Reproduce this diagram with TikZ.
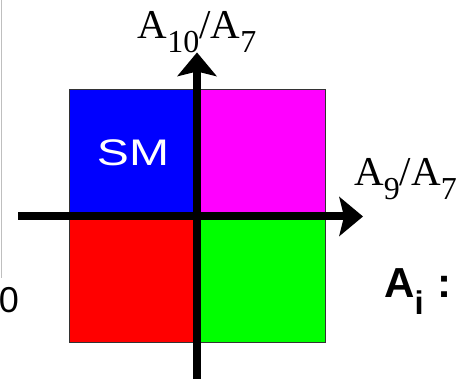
\documentclass[tikz,border=0pt]{standalone}
\usepackage{fontspec}
\setmainfont{Liberation Serif}
\setsansfont{Liberation Sans}
\usepackage{tikz}
\usetikzlibrary{arrows.meta,positioning}

\definecolor{qblue}{RGB}{0,0,255}
\definecolor{qmag}{RGB}{255,0,255}
\definecolor{qred}{RGB}{255,0,0}
\definecolor{qgreen}{RGB}{0,255,0}

% lowered index: [drop]{text}
\newcommand{\lowidx}[2][0.33em]{\raisebox{-#1}{\scalebox{0.78}{#2}}}

\begin{document}
\begin{tikzpicture}[x=1pt, y=1pt,
    quad/.style={draw=black!80, line width=1pt, minimum width=128pt,
                 minimum height=126.5pt, inner sep=0pt, outer sep=0pt},
    axis/.style={line width=8pt,
                 -{Stealth[length=24pt, width=40pt, inset=5pt, line width=0pt]}},
    serlab/.style={font=\fontsize{41}{41}\selectfont, inner sep=0pt}]
    \useasboundingbox (0,0) rectangle (460,379);

    % Left border line and digit at the edge
    \coordinate (rtop) at (1,379);
    \coordinate (rbot) at (1,101);
    \draw[gray!50, line width=1pt] (rtop) -- (rbot);
    \node[font=\sffamily\fontsize{36}{36}\selectfont, inner sep=0pt] (zero) at (9,79) {0};

    % Quadrants
    \coordinate (o) at (197,162.5);
    \node[quad, fill=qblue, anchor=south east] (smq) at (o) {};
    \node[quad, fill=qmag, anchor=south west] (mgq) at (o) {};
    \node[quad, fill=qred, anchor=north east] (rdq) at (o) {};
    \node[quad, fill=qgreen, anchor=north west] (grq) at (o) {};
    \node[font=\sffamily\fontsize{37}{37}\selectfont, text=white, inner sep=0pt] (sm)
        at (smq.center) {\scalebox{1.3}[1]{SM}};

    % Axes
    \coordinate (xstart) at (18,162.5);
    \coordinate (xend) at (363,162.5);
    \coordinate (ystart) at (197,-2);
    \coordinate (yend) at (197,326.5);
    \draw[axis] (xstart) -- (xend);
    \draw[axis] (ystart) -- (yend);

    % Axis labels
    \node[serlab, anchor=base] (ylab) at (197,340) {A\lowidx{10}/A\lowidx{7}};
    \node[serlab, anchor=base west] (xlab) at (354,193) {A\lowidx{9}/A\lowidx{7}};
    \node[font=\sffamily\bfseries\fontsize{42}{42}\selectfont, anchor=base west,
          inner sep=0pt] (key) at (384,81) {A\lowidx[0.4em]{i}\,\,:};
\end{tikzpicture}
\end{document}
